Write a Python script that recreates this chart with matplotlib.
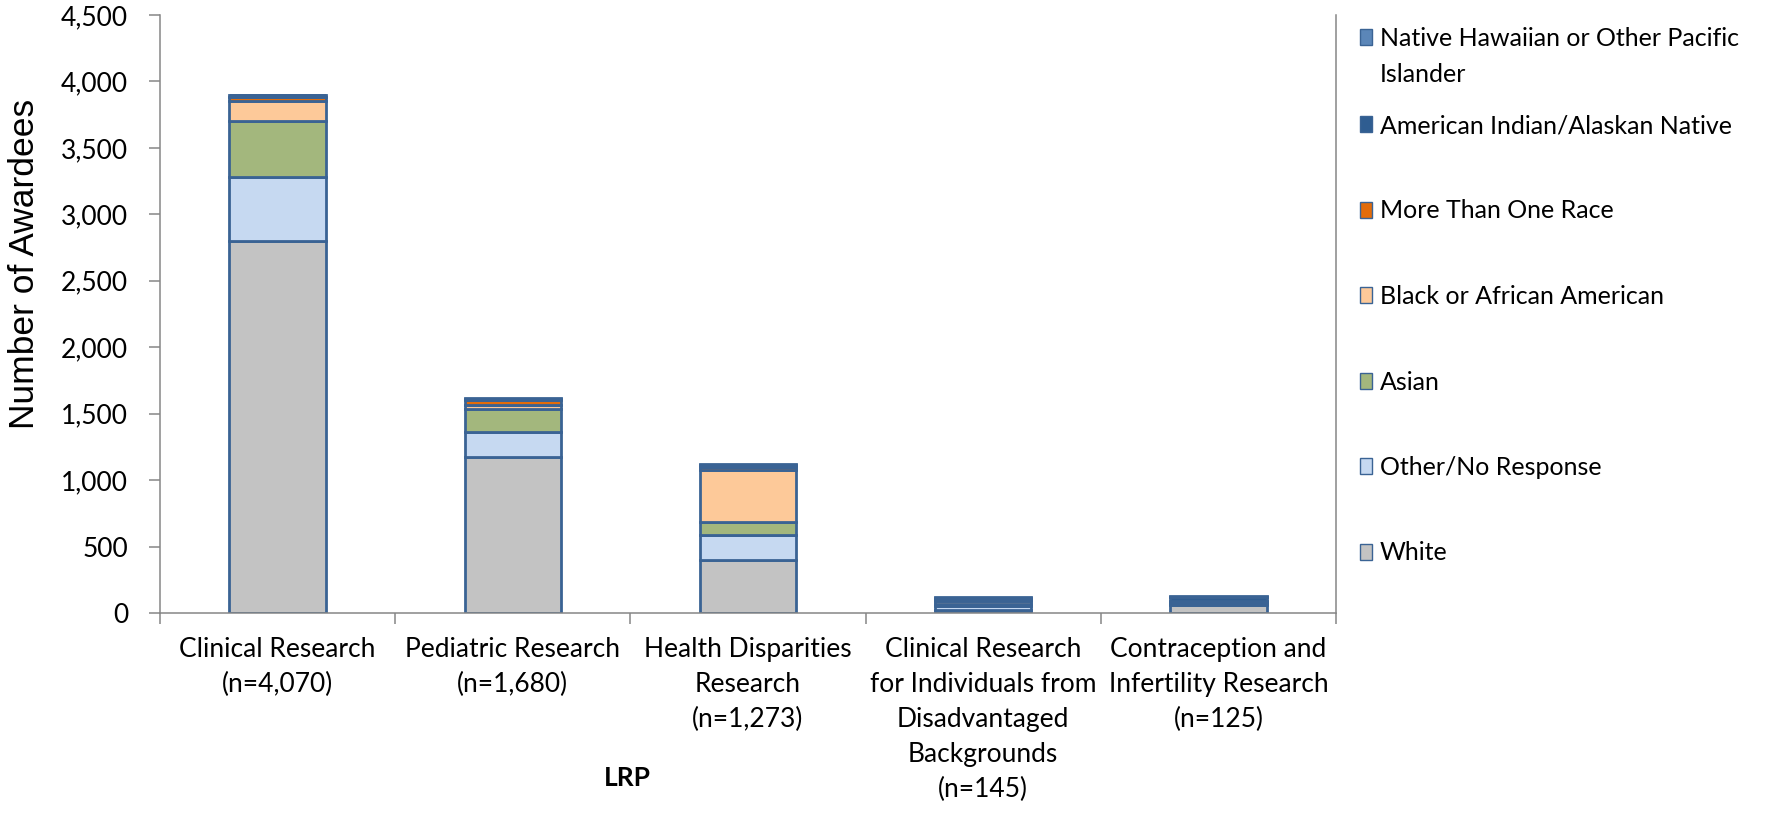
import matplotlib
matplotlib.use("Agg")
import matplotlib.pyplot as plt
from matplotlib.patches import Patch
from matplotlib.ticker import FuncFormatter
import numpy as np

categories = ["Clinical Research\n(n=4,070)",
              "Pediatric Research\n(n=1,680)",
              "Health Disparities\nResearch\n(n=1,273)",
              "Clinical Research\nfor Individuals from\nDisadvantaged\nBackgrounds\n(n=145)",
              "Contraception and\nInfertility Research\n(n=125)"]

# stacked bottom -> top
white = [2800, 1175, 400, 25, 60]
other = [480, 190, 185, 25, 10]
asian = [420, 170, 100, 15, 5]
black = [150, 30, 390, 25, 10]
more_than_one = [30, 35, 25, 10, 5]
am_indian = [15, 10, 10, 15, 30]
nh_pacific = [5, 5, 8, 5, 5]

series = [
    ("White", white, "#c3c3c3"),
    ("Other/No Response", other, "#c6d9f1"),
    ("Asian", asian, "#a3b77d"),
    ("Black or African American", black, "#fdc999"),
    ("More Than One Race", more_than_one, "#e36c0a"),
    ("American Indian/Alaskan Native", am_indian, "#2f5d91"),
    ("Native Hawaiian or Other Pacific Islander", nh_pacific, "#5b86b8"),
]

edge = "#3a6394"
grey = "#868686"
font = "Lato"

fig = plt.figure(figsize=(17.81, 8.15), dpi=100)
ax = fig.add_axes([160/1781, 1-613/815, (1336-160)/1781, (613-15)/815])

x = np.arange(len(categories))
bottom = np.zeros(len(categories))
for name, vals, col in series:
    ax.bar(x, vals, width=0.41, bottom=bottom, color=col,
           edgecolor=edge, linewidth=2.0)
    bottom += np.array(vals)

ax.set_ylim(0, 4500)
ax.set_xlim(-0.5, len(categories) - 0.5)
ax.set_yticks(np.arange(0, 4501, 500))
ax.yaxis.set_major_formatter(FuncFormatter(lambda v, p: f"{int(v):,}"))

ax.set_xticks(np.arange(-0.5, len(categories)), minor=False)
ax.set_xticklabels([])
ax.set_xticks(x, minor=True)
ax.set_xticklabels(categories, minor=True, fontsize=19, family=font,
                   linespacing=1.5, va="top")
ax.tick_params(axis="x", which="minor", length=0, pad=17)
ax.tick_params(axis="x", which="major", length=8, width=1.1, color=grey)
ax.tick_params(axis="y", length=8, width=1.1, color=grey, pad=15,
               labelsize=19)
for t in ax.get_yticklabels():
    t.set_family(font)

for s in ["left", "bottom", "right"]:
    ax.spines[s].set_color(grey)
    ax.spines[s].set_linewidth(1.1)
ax.spines["top"].set_visible(False)

ax.set_ylabel("Number of Awardees", fontsize=25.5, family="Liberation Sans")
ax.yaxis.set_label_coords(-0.101, 0.584)
fig.text(627/1781, 1-778/815, "LRP", fontsize=19, family=font,
         fontweight="bold", ha="center", va="center")

# legend, top entry wraps onto a second line
handles = [Patch(facecolor=col, edgecolor=edge, linewidth=1.0, label=name)
           for name, vals, col in reversed(series)]
first = handles[0]
first_words = first.get_label().rsplit(" ", 1)
top_handles = [Patch(facecolor=first.get_facecolor(), edgecolor=edge,
                     linewidth=1.0, label=first_words[0]),
               Patch(facecolor="none", edgecolor="none", label=first_words[1])]
legkw = dict(loc="upper left", frameon=False,
             prop={"family": font, "size": 18}, handlelength=0.5,
             handleheight=0.6, handletextpad=0.3,
             borderaxespad=0, borderpad=0)
fig.legend(handles=top_handles, bbox_to_anchor=(1360/1781, 1-27/815),
           labelspacing=0.52, **legkw)
fig.legend(handles=handles[1:], bbox_to_anchor=(1360/1781, 1-114/815),
           labelspacing=2.5, **legkw)

fig.savefig("out.png", dpi=100)
